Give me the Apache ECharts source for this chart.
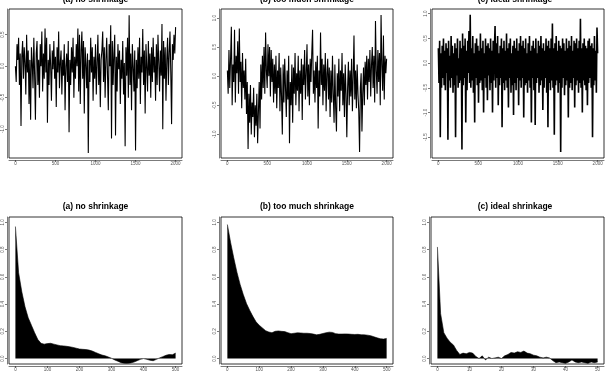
<!DOCTYPE html>
<html>
<head>
<meta charset="utf-8">
<script src="https://cdn.jsdelivr.net/npm/echarts@6/dist/echarts.min.js"></script>
<style>
  html, body { margin: 0; padding: 0; background: #fff; }
  #chart { width: 609px; height: 384px; }
</style>
</head>
<body>
<div id="chart"></div>
<script>
// panel titles
const titles = ['(a) no shrinkage', '(b) too much shrinkage', '(c) ideal shrinkage'];

// trace plots: one value every 10 iterations (a, b), every 8 iterations (c)
const traceA = [
  0.0, -0.25, 0.35, 0.1, 0.45, -0.3, 0.2, -0.95, 0.15, 0.4,
  -0.2, 0.3, 0.05, -0.45, 0.5, -0.1, 0.25, -0.6, 0.1, -0.85,
  0.3, 0.05, -0.35, 0.45, -0.15, -0.85, 0.2, 0.4, -0.3, 0.1,
  -0.5, 0.35, 0.0, 0.55, -0.4, 0.2, -0.2, 0.6, -0.1, 0.45,
  -0.9, 0.1, -0.3, 0.35, 0.0, -0.55, 0.25, -0.05, 0.4, -0.2,
  0.15, -0.65, 0.3, -0.1, 0.55, -0.35, 0.05, 0.25, -0.45, 0.1,
  -0.15, 0.35, -0.7, 0.0, 0.2, -0.25, 0.4, -1.05, 0.1, -0.3,
  0.3, -0.1, 0.45, -0.5, 0.15, -0.2, 0.35, 0.0, 0.6, -0.4,
  0.5, -0.6, 0.25, 0.55, -0.2, 0.4, -0.75, 0.3, 0.05, -0.35,
  0.2, -1.38, 0.1, -0.25, 0.45, -0.1, 0.3, -0.55, 0.15, -0.2,
  0.35, -0.45, 0.05, 0.5, -0.3, 0.2, -0.65, 0.1, 0.25, 0.55,
  -0.25, 0.3, -0.5, 0.1, 0.45, -0.15, -0.7, 0.35, 0.0, 0.65,
  -1.15, 0.4, -0.3, 0.2, 0.5, -1.1, 0.15, -0.4, 0.35, -0.05,
  0.25, -0.6, 0.1, -0.2, 0.4, -0.45, 0.05, -1.27, 0.3, -0.15,
  0.45, -0.5, 0.81, -0.3, 0.2, -0.7, 0.35, 0.0, -0.4, 0.25,
  -1.34, 0.1, -0.35, 0.3, -0.2, 0.45, -0.6, 0.15, -0.1, 0.59,
  -0.3, 0.25, -0.75, 0.35, 0.0, -0.4, 0.4, -0.15, 0.2, -0.5,
  0.3, -0.25, 0.45, -0.1, 0.15, -0.55, 0.35, -0.3, 0.5, 0.05,
  -0.4, 0.25, -0.15, 0.67, -1.0, 0.4, -0.2, 0.3, -0.55, 0.1,
  0.45, -0.3, 0.2, 0.55, -0.1, -0.92, 0.35, 0.1, 0.5, 0.2,
  0.62
];
const traceB = [
  0.1, -0.3, 0.45, -0.2, 0.3, 0.85, -0.5, 0.2, -0.1, 0.8,
  -0.45, 0.35, 0.05, 0.6, -0.3, 0.82, -0.1, 0.25, -0.55, 0.4,
  -0.2, 0.1, -0.4, 0.3, -0.65, -0.1, -1.25, -0.3, -0.8, -0.15,
  -1.0, -0.45, -0.7, -0.2, -1.05, -0.5, -0.85, -0.3, -1.15, -0.6,
  -0.1, -0.9, 0.2, -0.4, 0.35, -0.2, 0.5, -0.3, 0.75, 0.1,
  -0.2, 0.55, 0.0, 0.5, -0.35, 0.45, -0.1, 0.3, -0.45, 0.2,
  -0.3, 0.35, -0.55, 0.1, -0.2, 0.4, -0.6, 0.15, -0.35, -1.0,
  0.2, -0.45, 0.3, -0.2, -0.7, 0.1, -0.4, 0.35, -1.15, -0.1,
  -0.5, 0.2, -0.8, 0.15, -0.3, 0.4, -0.5, 0.05, -0.25, 0.35,
  -0.6, 0.1, -0.3, 0.3, -0.75, 0.2, -0.15, 0.45, -0.4, 0.05,
  0.55, -0.35, 0.2, -0.5, 0.3, -0.1, 0.4, 0.8, -0.3, 0.1,
  -0.45, 0.25, -0.2, 0.35, -0.9, 0.1, -0.35, 0.75, -0.15, 0.3,
  -0.5, 0.2, -0.25, 0.4, -0.6, 0.05, 0.3, -0.4, 0.15, -0.7,
  0.1, -0.45, 0.35, -0.3, -0.8, 0.2, -0.55, -0.95, 0.05, -0.35,
  0.3, -0.6, 0.1, -0.25, 0.4, -0.5, 0.05, -0.7, 0.2, -0.3,
  -1.05, -0.2, 0.25, -0.5, 0.1, -0.35, 0.3, -0.6, 0.0, 0.7,
  -0.4, 0.1, -0.55, 0.2, -0.3, -0.6, -1.3, -0.2, 0.05, -0.95,
  -0.3, 0.15, -0.5, 0.25, -0.15, 0.35, -0.4, 0.3, -0.1, 0.45,
  -0.35, 0.2, 0.5, -0.2, 0.35, -0.45, 0.95, 0.1, -0.3, 0.45,
  -0.1, 0.4, -0.5, 1.05, 0.2, -0.25, 0.7, -0.4, 0.35, 0.05,
  0.3
];
const traceC = [
  0.3, -0.4, 0.45, -1.5, 0.2, -0.5, 0.35, -0.3, 0.5, -0.45,
  0.25, -0.55, 0.4, -0.2, 0.3, -1.55, 0.45, -0.35, 0.15, -0.5,
  0.55, -0.3, 0.35, -0.6, 0.2, -0.45, 0.4, -1.5, 0.3, -0.25,
  0.5, -0.5, 0.1, -0.4, 0.45, -0.35, 0.3, -1.75, 0.6, -0.45,
  0.35, -0.3, 0.5, -1.2, 0.25, -0.55, 0.45, -0.2, 0.65, -0.4,
  0.98, -0.5, 0.3, -0.35, 0.55, -0.6, 0.2, -1.2, 0.4, -0.3,
  0.5, -0.45, 0.35, -0.8, 0.25, -0.4, 0.6, -0.35, 0.3, -0.55,
  0.45, -1.0, 0.2, -0.3, 0.5, -0.5, 0.35, -0.75, 0.4, -0.25,
  0.3, -0.55, 0.5, -0.4, 0.25, -1.0, 0.45, -0.35, 0.3, 0.75,
  -0.5, 0.4, -0.3, 0.55, -0.85, 0.2, -0.45, 0.35, -0.3, 0.5,
  -1.3, 0.3, -0.4, 0.45, -0.55, 0.25, -0.35, 0.6, -0.5, 0.3,
  -0.9, 0.4, -0.3, 0.5, -0.6, 0.2, -0.45, 0.35, -1.05, 0.45,
  -0.4, 0.3, -0.55, 0.5, -0.3, 0.25, -0.85, 0.4, -0.35, 0.55,
  -0.5, 0.35, -0.3, 0.45, -1.1, 0.3, -0.45, 0.5, -0.4, 0.2,
  -0.6, 0.4, -0.35, 0.55, -0.5, 0.25, -1.2, 0.35, -0.3, 0.45,
  -0.55, 0.3, -1.25, 0.5, -0.4, 0.2, -0.3, 0.45, -0.6, 0.35,
  -0.45, 0.55, -0.35, 0.3, -0.95, 0.4, -0.5, 0.25, -0.3, 0.5,
  -0.6, 0.35, -1.3, 0.45, -0.4, 0.3, -0.55, 0.5, -0.35, 0.8,
  -0.5, 0.3, -1.45, 0.4, -0.45, 0.55, -0.35, 0.25, -0.6, 0.45,
  -0.4, 0.35, -1.8, 0.3, -0.5, 0.5, -0.3, 0.4, -0.65, 0.25,
  -0.45, 0.5, -0.35, 0.3, -1.1, 0.45, -0.5, 0.35, -0.4, 0.55,
  -0.55, 0.25, -0.3, 0.45, -0.9, 0.4, -0.45, 0.5, -0.35, 0.3,
  -0.6, 0.45, -0.4, 0.9, -0.5, 0.3, -1.0, 0.4, -0.35, 0.5,
  -0.45, 0.35, -0.55, 0.3, -0.85, 0.45, -0.4, 0.5, -0.3, 0.35,
  -0.5, 0.4, -1.5, 0.3, -0.45, 0.55, -0.35, 0.25, -0.6, 0.72,
  0.2
];

// autocorrelation plots
const lagsAB = [0, 10, 20, 30, 40, 50, 60, 70, 80, 90, 100, 110, 120, 130, 140, 150, 160, 170, 180, 190,
  200, 210, 220, 230, 240, 250, 260, 270, 280, 290, 300, 310, 320, 330, 340, 350, 360, 370, 380, 390,
  400, 410, 420, 430, 440, 450, 460, 470, 480, 490, 500];
const acfA = [0.97, 0.63, 0.49, 0.38, 0.30, 0.245, 0.19, 0.14, 0.112, 0.106, 0.11, 0.112, 0.106, 0.1,
  0.095, 0.093, 0.09, 0.086, 0.082, 0.076, 0.07, 0.068, 0.066, 0.062, 0.055, 0.045, 0.035, 0.026,
  0.02, 0.012, 0.002, -0.01, -0.02, -0.03, -0.034, -0.035, -0.032, -0.026, -0.016, -0.006, 0.0,
  -0.006, -0.012, -0.016, -0.006, 0.005, 0.014, 0.024, 0.03, 0.028, 0.04];
const acfB = [0.985, 0.855, 0.74, 0.635, 0.545, 0.47, 0.405, 0.355, 0.31, 0.27, 0.245, 0.225, 0.205,
  0.195, 0.19, 0.2, 0.203, 0.2, 0.198, 0.19, 0.183, 0.186, 0.189, 0.188, 0.186, 0.186, 0.184, 0.18,
  0.174, 0.178, 0.184, 0.19, 0.194, 0.192, 0.183, 0.18, 0.18, 0.181, 0.18, 0.178, 0.177, 0.178,
  0.175, 0.174, 0.172, 0.168, 0.16, 0.152, 0.146, 0.143, 0.148];
const lagsC = [0, 1, 2, 3, 4, 5, 6, 7, 8, 9, 10, 11, 12, 13, 14, 15, 16, 17, 18, 19, 20, 21, 22, 23, 24,
  25, 26, 27, 28, 29, 30, 31, 32, 33, 34, 35, 36, 37, 38, 39, 40, 41, 42, 43, 44, 45, 46, 47, 48, 49, 50];
const acfC = [0.82, 0.33, 0.19, 0.15, 0.12, 0.10, 0.06, 0.03, 0.04, 0.035, 0.045, 0.04, 0.015, 0.0,
  0.02, -0.01, 0.01, 0.0, 0.005, 0.01, 0.0, 0.02, 0.03, 0.045, 0.04, 0.05, 0.045, 0.055, 0.04, 0.035,
  0.025, 0.02, 0.01, 0.005, 0.01, 0.005, -0.015, -0.03, -0.025, -0.03, -0.035, -0.025, -0.01, -0.025,
  -0.03, -0.025, -0.03, -0.035, -0.025, -0.03, -0.025];

// tick labels
const traceXTicks = [0, 500, 1000, 1500, 2000];
const traceYTicksA = [-1.0, -0.5, 0.0, 0.5];
const traceYTicksB = [-1.0, -0.5, 0.0, 0.5, 1.0];
const traceYTicksC = [-1.5, -1.0, -0.5, 0.0, 0.5, 1.0];
const acfXTicksAB = [0, 100, 200, 300, 400, 500];
const acfXTicksC = [0, 10, 20, 30, 40, 50];
const acfYTicks = [0.0, 0.2, 0.4, 0.6, 0.8, 1.0];

const chart = echarts.init(document.getElementById('chart'));

const grids = [
  {left: 9, top: 9, width: 173, height: 149},
  {left: 221, top: 9, width: 172, height: 149},
  {left: 432, top: 9, width: 172, height: 149},
  {left: 9, top: 217, width: 173, height: 147},
  {left: 221, top: 217, width: 172, height: 147},
  {left: 431, top: 217, width: 173, height: 147}
].map(g => Object.assign({show: true, borderColor: '#000', borderWidth: 0.8, backgroundColor: '#fff'}, g));

function axis(gridIndex, min, max, ticks, isY, fmt) {
  return {
    type: 'value', gridIndex, min, max,
    offset: 2,
    axisLine: {show: true, onZero: false, lineStyle: {color: '#222', width: 0.6}},
    axisTick: {show: true, length: 2, customValues: ticks, lineStyle: {color: '#222', width: 0.6}},
    axisLabel: {
      customValues: ticks, fontSize: 4.5, color: '#555', margin: 1.5,
      fontFamily: 'Liberation Sans', rotate: isY ? 90 : 0, formatter: fmt
    },
    splitLine: {show: false}
  };
}
const f1 = v => v.toFixed(1);
const f0 = v => String(Math.round(v));

const xAxis = [
  axis(0, -80, 2080, traceXTicks, false, f0),
  axis(1, -80, 2080, traceXTicks, false, f0),
  axis(2, -80, 2080, traceXTicks, false, f0),
  axis(3, -20, 520, acfXTicksAB, false, f0),
  axis(4, -20, 520, acfXTicksAB, false, f0),
  axis(5, -2, 52, acfXTicksC, false, f0)
];
const yAxis = [
  axis(0, -1.458, 0.908, traceYTicksA, true, f1),
  axis(1, -1.405, 1.155, traceYTicksB, true, f1),
  axis(2, -1.92, 1.095, traceYTicksC, true, f1),
  axis(3, -0.04, 1.04, acfYTicks, true, f1),
  axis(4, -0.04, 1.04, acfYTicks, true, f1),
  axis(5, -0.04, 1.04, acfYTicks, true, f1)
];

function traceSeries(idx, vals, step, width) {
  return {
    type: 'line', xAxisIndex: idx, yAxisIndex: idx,
    data: vals.map((v, i) => [i * step, v]),
    symbol: 'none', lineStyle: {color: '#000', width: width}, silent: true
  };
}
function acfSeries(idx, lags, vals) {
  return {
    type: 'line', xAxisIndex: idx, yAxisIndex: idx,
    data: lags.map((l, i) => [l, vals[i]]),
    symbol: 'none', lineStyle: {color: '#000', width: 0.6},
    areaStyle: {color: '#000', opacity: 1, origin: 0}, silent: true
  };
}

const titleCenters = [95.5, 307, 515];
const titleStyle = {fontFamily: 'Liberation Sans', fontWeight: 'bold', fontSize: 8.5, color: '#000'};
const title = [];
titles.forEach((t, i) => {
  title.push({text: t, left: titleCenters[i], top: -5, textAlign: 'center', padding: 0, textStyle: titleStyle});
  title.push({text: t, left: titleCenters[i], top: 202, textAlign: 'center', padding: 0, textStyle: titleStyle});
});

const option = {
  animation: false,
  backgroundColor: '#fff',
  title,
  grid: grids,
  xAxis,
  yAxis,
  series: [
    traceSeries(0, traceA, 10, 1.1),
    traceSeries(1, traceB, 10, 1.1),
    traceSeries(2, traceC, 8, 1.6),
    acfSeries(3, lagsAB, acfA),
    acfSeries(4, lagsAB, acfB),
    acfSeries(5, lagsC, acfC)
  ]
};

chart.setOption(option);
</script>
</body>
</html>
